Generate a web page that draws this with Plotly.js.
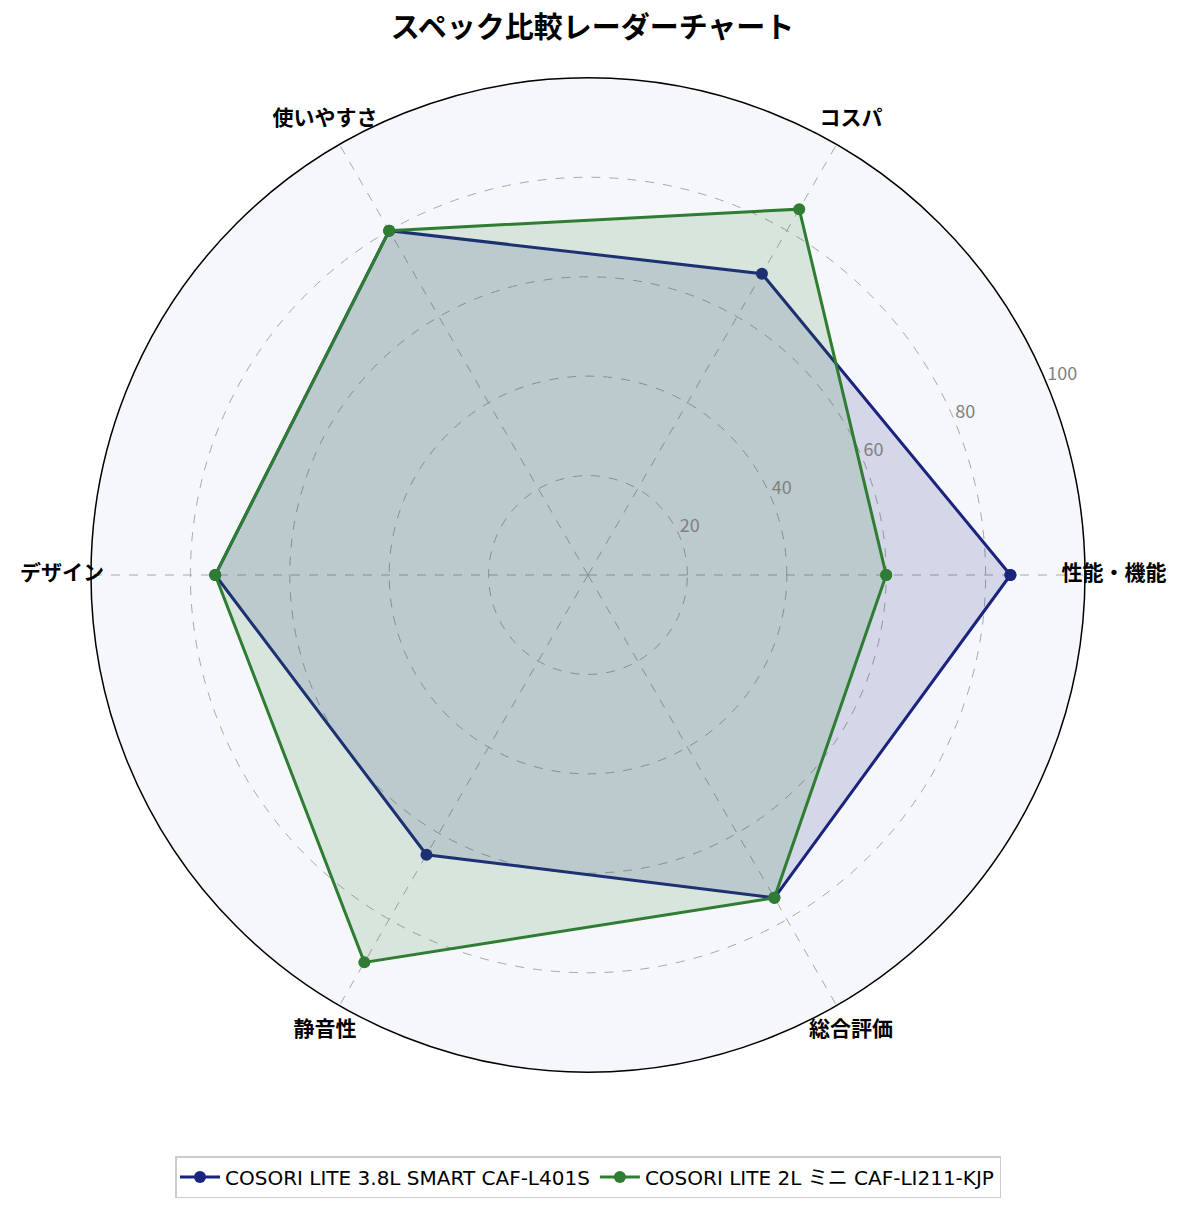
<!DOCTYPE html>
<html>
<head>
<meta charset="utf-8">
<script src="https://cdn.plot.ly/plotly-3.0.1.min.js"></script>
<style>html,body{margin:0;padding:0;background:#fff;}</style>
</head>
<body>
<div id="chart" style="width:1185px;height:1211px;"></div>
<script>
const categories = ["性能・機能", "コスパ", "使いやすさ", "デザイン", "静音性", "総合評価"];
const seriesNames = ["COSORI LITE 3.8L SMART CAF-L401S", "COSORI LITE 2L ミニ CAF-LI211-KJP"];
const valuesA = [85, 70, 80, 75, 65, 75];
const valuesB = [60, 85, 80, 75, 90, 75];
const radialTicks = [20, 40, 60, 80, 100];
const radialLabelAngle = 22.5;
const labelRadius = 105.8;

const FONT = '"Noto Sans CJK JP", "Noto Sans", sans-serif';
const LEGEND_FONT = '"DejaVu Sans", "Noto Sans CJK JP", sans-serif';
function closed(a){ return a.concat([a[0]]); }

function seriesTraces(name, values, color, fill) {
  return [
    {
      type: 'scatterpolar', mode: 'lines', showlegend: false, hoverinfo: 'skip', legendgroup: name,
      r: closed(values), theta: closed(categories),
      fill: 'toself', fillcolor: fill, line: {width: 0, color: fill}
    },
    {
      type: 'scatterpolar', mode: 'lines+markers', name: name, legendgroup: name,
      r: closed(values), theta: closed(categories),
      line: {color: color, width: 3}, marker: {color: color, size: 12}
    }
  ];
}

const traces = [
  ...seriesTraces(seriesNames[0], valuesA, '#1a237e', 'rgba(26,35,126,0.15)'),
  ...seriesTraces(seriesNames[1], valuesB, '#2e7d32', 'rgba(46,125,50,0.15)'),
  {
    type: 'scatterpolar', subplot: 'polar2', mode: 'text', showlegend: false, hoverinfo: 'skip',
    r: categories.map(() => labelRadius), theta: categories, text: categories,
    textposition: 'middle center',
    textfont: {family: FONT, size: 21, weight: 'bold', color: '#000'}
  },
  {
    type: 'scatterpolar', subplot: 'polar3', mode: 'text', showlegend: false, hoverinfo: 'skip',
    r: radialTicks, theta: radialTicks.map(() => radialLabelAngle), text: radialTicks.map(String),
    textposition: 'top right', cliponaxis: false,
    textfont: {family: FONT, size: 18, color: '#808080'}
  }
];

// plot area: center (588,575); outer (label) polar radius 547, main polar radius 497
const inner = (1 - 497 / 547) / 2;
const innerDomain = {x: [inner, 1 - inner], y: [inner, 1 - inner]};
const hiddenAngular = {direction: 'counterclockwise', rotation: 0, showgrid: false, showline: false, showticklabels: false, ticks: ''};

const layout = {
  width: 1185, height: 1211,
  margin: {l: 41, r: 50, t: 28, b: 89},
  paper_bgcolor: '#ffffff',
  font: {family: FONT, color: '#000'},
  title: {text: 'スペック比較レーダーチャート', x: 0.5, xanchor: 'center', y: 0.977, yanchor: 'middle',
          font: {family: FONT, size: 29, weight: 'bold', color: '#000'}},
  showlegend: true,
  legend: {orientation: 'h', x: 0.5, xanchor: 'center', y: -0.0503, yanchor: 'middle',
           bordercolor: '#cccccc', borderwidth: 1.5, bgcolor: '#ffffff',
           font: {family: LEGEND_FONT, size: 20, color: '#000'}, itemwidth: 40},
  polar: {
    bgcolor: '#f5f7fb',
    domain: innerDomain,
    radialaxis: {
      range: [0, 100], angle: radialLabelAngle, tickvals: radialTicks,
      showline: false, ticks: '', showticklabels: false,
      gridcolor: '#a8a8a8', griddash: 'dash', gridwidth: 1
    },
    angularaxis: {
      direction: 'counterclockwise', rotation: 0,
      showline: true, linecolor: '#000', linewidth: 1.5, ticks: '',
      showticklabels: false,
      gridcolor: '#a8a8a8', griddash: 'dash', gridwidth: 1
    }
  },
  polar2: {
    bgcolor: 'rgba(0,0,0,0)',
    domain: {x: [0, 1], y: [0, 1]},
    radialaxis: {range: [0, 110], visible: false, showgrid: false, showline: false, showticklabels: false, ticks: ''},
    angularaxis: Object.assign({categoryarray: categories, categoryorder: 'array'}, hiddenAngular)
  },
  polar3: {
    bgcolor: 'rgba(0,0,0,0)',
    domain: innerDomain,
    radialaxis: {range: [0, 100], visible: false, showgrid: false, showline: false, showticklabels: false, ticks: ''},
    angularaxis: Object.assign({thetaunit: 'degrees'}, hiddenAngular)
  }
};

Plotly.newPlot('chart', traces, layout, {displayModeBar: false});
</script>
</body>
</html>
